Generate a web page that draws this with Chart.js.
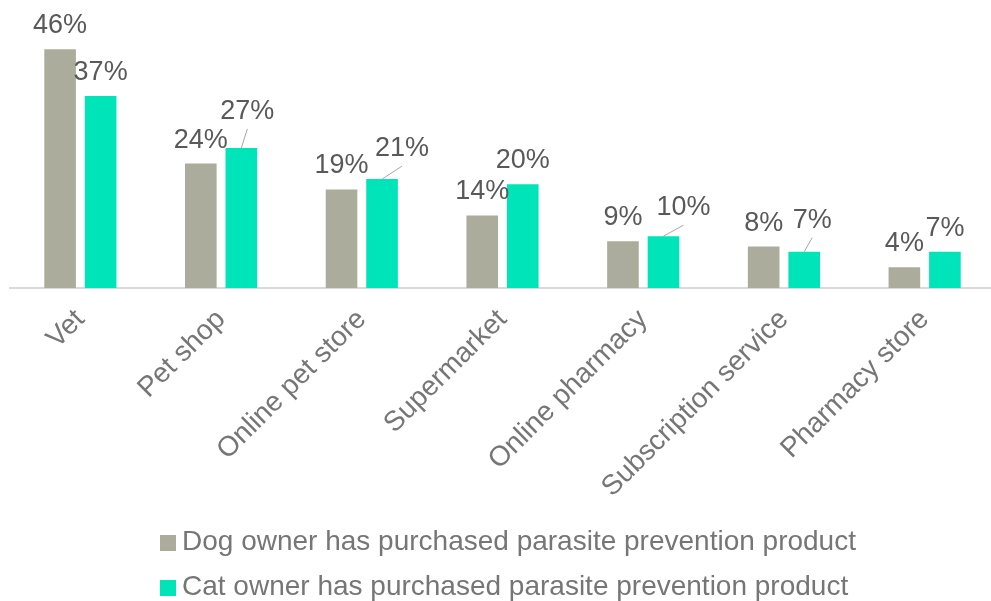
<!DOCTYPE html>
<html>
<head>
<meta charset="utf-8">
<script src="https://cdn.jsdelivr.net/npm/chart.js@4.4.1/dist/chart.umd.min.js"></script>
<style>
  html, body { margin: 0; padding: 0; background: #fff; overflow: hidden; }
  #wrap { width: 991px; height: 601px; overflow: hidden; position: relative; }
  #box { width: 1000px; height: 601px; position: relative; }
  #legend { position: absolute; left: 160px; top: 525px; }
  .item { position: relative; height: 45px; font: 28px/32px 'Liberation Sans', Arial, sans-serif;
          color: #767676; white-space: nowrap; padding-left: 22px; }
  .swatch { position: absolute; left: 0; top: 10px; width: 16px; height: 16px; }
</style>
</head>
<body>
<div id="wrap">
  <div id="box"><canvas id="parasiteChart"></canvas></div>
  <div id="legend"></div>
</div>
<script>
const channels = ["Vet", "Pet shop", "Online pet store", "Supermarket", "Online pharmacy", "Subscription service", "Pharmacy store"];
const dogOwners = [46, 24, 19, 14, 9, 8, 4];
const catOwners = [37, 27, 21, 20, 10, 7, 7];

// label nudges for crowded values: [dx, extra lift]; non-zero ones get a leader line
const dogLabelShift = [[0, 0], [0, 0], [0, 0], [0, 0], [0, 0], [0, 0], [0, 0]];
const catLabelShift = [[0, 0], [6, 13], [20, 7], [0, 0], [20, 5], [8, 8], [0, 0]];

const valueLabels = {
  id: "valueLabels",
  afterDatasetsDraw(chart) {
    const ctx = chart.ctx;
    const shifts = [dogLabelShift, catLabelShift];
    ctx.save();
    ctx.font = "27px 'Liberation Sans', Arial, sans-serif";
    ctx.textAlign = "center";
    ctx.textBaseline = "alphabetic";
    chart.data.datasets.forEach((ds, i) => {
      chart.getDatasetMeta(i).data.forEach((bar, j) => {
        const [dx, lift] = shifts[i][j];
        const x = bar.x + dx;
        const y = bar.y - 16 - lift;
        if (dx !== 0 || lift !== 0) {
          ctx.strokeStyle = "#a6a6a6";
          ctx.lineWidth = 1;
          ctx.beginPath();
          ctx.moveTo(x, y + 10);
          ctx.lineTo(bar.x, bar.y);
          ctx.stroke();
        }
        ctx.fillStyle = "#595959";
        ctx.fillText(ds.data[j] + "%", x, y);
      });
    });
    ctx.restore();
  },
};

const ctx = document.getElementById("parasiteChart").getContext("2d");
const parasiteChart = new Chart(ctx, {
  type: "bar",
  data: {
    labels: channels,
    datasets: [
      {
        label: "Dog owner has purchased parasite prevention product",
        data: dogOwners,
        backgroundColor: "#acac9c",
        categoryPercentage: 0.576,
        barPercentage: 0.78,
      },
      {
        label: "Cat owner has purchased parasite prevention product",
        data: catOwners,
        backgroundColor: "#00e4b9",
        categoryPercentage: 0.576,
        barPercentage: 0.78,
      },
    ],
  },
  options: {
    responsive: true,
    maintainAspectRatio: false,
    animation: false,
    layout: { padding: { left: 10, right: 5, top: 0, bottom: 90 } },
    plugins: {
      legend: { display: false },
      tooltip: { enabled: false },
    },
    scales: {
      x: {
        grid: { display: false },
        border: { color: "#d9d9d9", width: 2 },
        ticks: {
          minRotation: 45,
          maxRotation: 45,
          padding: 7,
          color: "#767676",
          font: { family: "'Liberation Sans', Arial, sans-serif", size: 28 },
        },
      },
      y: { display: false, min: 0, max: 55.5 },
    },
  },
  plugins: [valueLabels],
});

// legend rows built from the chart's own datasets
const legendBox = document.getElementById("legend");
parasiteChart.data.datasets.forEach((ds) => {
  const row = document.createElement("div");
  row.className = "item";
  const sw = document.createElement("span");
  sw.className = "swatch";
  sw.style.background = ds.backgroundColor;
  row.appendChild(sw);
  row.appendChild(document.createTextNode(ds.label));
  legendBox.appendChild(row);
});
</script>
</body>
</html>
